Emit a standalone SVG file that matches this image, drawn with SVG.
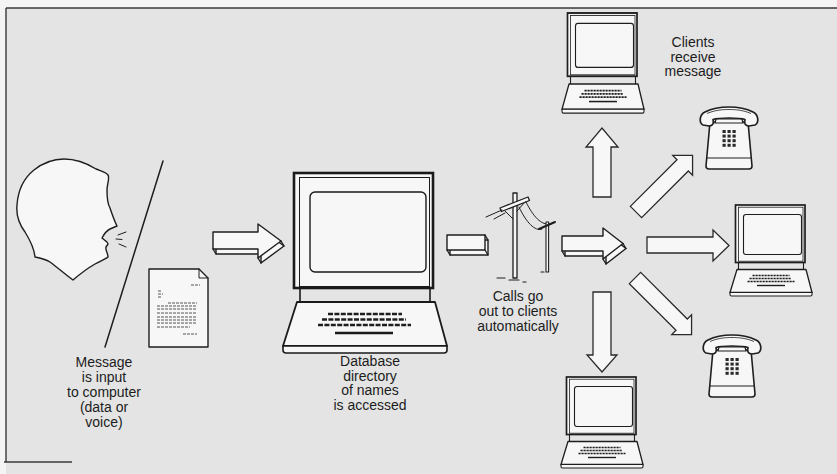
<svg xmlns="http://www.w3.org/2000/svg" width="837" height="474" viewBox="0 0 837 474">
  <style>
    .ink { stroke: #1e1e1e; stroke-linejoin: round; stroke-linecap: round; }
    .shape { fill: #f7f7f7; stroke: #1e1e1e; stroke-width: 1.4; stroke-linejoin: round; }
    .flat { fill: #f7f7f7; stroke: #2a2a2a; stroke-width: 1.3; stroke-linejoin: miter; }
    .label { font-family: "Liberation Sans", Arial, Helvetica, sans-serif; font-size: 14px; fill: #1c1c1c; text-anchor: middle; }
    .doc { stroke: #555; stroke-width: 1; stroke-dasharray: 3 1; }
    .kb { stroke: #1e1e1e; fill: none; }
  </style>
  <defs>
    <!-- small portable computer, 82 x 91 -->
    <symbol id="pc-small" overflow="visible">
      <rect x="5.5" y="0" width="69.5" height="57.5" fill="#f7f7f7" stroke="#1e1e1e" stroke-width="1.7"/>
      <rect x="8.5" y="2.2" width="64.5" height="54" fill="none" stroke="#1e1e1e" stroke-width="0.8"/>
      <rect x="13.5" y="9.5" width="58" height="40" rx="2.5" fill="#f7f7f7" stroke="#1e1e1e" stroke-width="1.1"/>
      <path d="M8.5,57.5 L8.5,64.5 M73.5,57.5 L73.5,64.5" stroke="#1e1e1e" stroke-width="1.1"/>
      <path d="M7,64.5 L76,64.5 L82,87.5 L0,87.5 Z" fill="#f7f7f7" stroke="#1e1e1e" stroke-width="1.3" stroke-linejoin="round"/>
      <path d="M0,87.5 L82,87.5 L82,89.5 Q82,91 80.5,91 L1.5,91 Q0,91 0,89.5 Z" fill="#f7f7f7" stroke="#1e1e1e" stroke-width="1.1"/>
      <g class="kb" stroke-width="1.5" stroke-dasharray="2.2 0.8">
        <path d="M22.5,70.5 L59.5,70.5"/>
        <path d="M19.5,73.5 L61.5,73.5"/>
        <path d="M17.5,76.5 L64.5,76.5"/>
      </g>
      <path d="M27,80.5 L55,80.5" stroke="#1e1e1e" stroke-width="1.4"/>
    </symbol>
    <!-- desk telephone, about 60 x 62 -->
    <symbol id="phone" overflow="visible">
      <path d="M11,15 L49,15 L53,59 Q53,62 50,62 L10,62 Q7,62 7,59 Z" fill="#f7f7f7" stroke="#1e1e1e" stroke-width="1.6" stroke-linejoin="round"/>
      <path d="M8,51 L52,51" stroke="#1e1e1e" stroke-width="1.2"/>
      <path d="M17,12 L43,12 L44,16 L16,16 Z" fill="#f7f7f7" stroke="#1e1e1e" stroke-width="1.2"/>
      <path d="M4,18 C0,16 0,8 6,5 C14,1 23,0 30,0 C37,0 46,1 54,5 C60,8 60,16 56,18 L50,19 C46,19 45,16 46,12.5 C40,10.5 20,10.5 14,12.5 C15,16 14,19 10,19 Z" fill="#f7f7f7" stroke="#1e1e1e" stroke-width="1.7" stroke-linejoin="round"/>
      <path d="M8,6.5 C16,3 24,2.5 30,2.5 C36,2.5 44,3 52,6.5" fill="none" stroke="#1e1e1e" stroke-width="0.8"/>
      <g fill="#2a2a2a">
        <rect x="23.5" y="23" width="3.2" height="3"/><rect x="28.5" y="23" width="3.2" height="3"/><rect x="33.5" y="23" width="3.2" height="3"/>
        <rect x="23.5" y="27.6" width="3.2" height="3"/><rect x="28.5" y="27.6" width="3.2" height="3"/><rect x="33.5" y="27.6" width="3.2" height="3"/>
        <rect x="23.5" y="32.2" width="3.2" height="3"/><rect x="28.5" y="32.2" width="3.2" height="3"/><rect x="33.5" y="32.2" width="3.2" height="3"/>
        <rect x="23.5" y="36.8" width="3.2" height="3"/><rect x="28.5" y="36.8" width="3.2" height="3"/><rect x="33.5" y="36.8" width="3.2" height="3"/>
      </g>
    </symbol>
  </defs>

  <!-- page and panel -->
  <rect x="0" y="0" width="837" height="474" fill="#f4f4f4"/>
  <rect x="6" y="8" width="831" height="466" fill="#e4e4e4"/>
  <path d="M6,8 L837,8 M6,8 L6,462 M4,462 L72,462" stroke="#3a3a3a" stroke-width="1.4" fill="none"/>

  <!-- speaker -->
  <g id="speaker">
    <path class="shape" stroke-width="2" d="M35,257 C34,248 30,240 25,232 C19,224 16,215 17,205 C18,190 24,178 34,170 C44,162 55,159 64,159 C76,159 88,164 96,169 C101,171 106,172 108,175 C110,178 107,184 107,190 C107,197 107,203 110,208 C112,214 114,220 117,226 L110,229 C106,231 104,234 102,238 C104,240 108,242 108,244 L106,247 C105,250 108,253 108,257 C106,259 100,261 95,264 C88,268 80,274 73,280 C66,275 58,268 50,262 C45,259 40,258 35,257 Z"/>
    <path class="ink" stroke-width="1" fill="none" d="M118,235 L126,232 M116,239 L122,239.5 M119,244 L126,247"/>
    <path class="ink" stroke-width="1.5" d="M163,161 L105,347"/>
  </g>

  <!-- written message -->
  <g id="document">
    <path class="shape" stroke-width="1.3" d="M149,269 L199,269 L208,278 L208,347 L149,347 Z"/>
    <path class="ink" stroke-width="1" fill="none" d="M199,269 L199,278 L208,278"/>
    <path class="doc" d="M191,285 L200,285"/>
    <path class="doc" stroke-dasharray="none" d="M158,291 L162,291 M158,294 L163,294 M158,297 L161,297"/>
    <path class="doc" d="M168,303 L197,303 M157,306 L197,306 M157,309 L197,309 M157,313 L197,313 M157,317 L197,317 M157,320 L197,320 M157,323 L196,323 M157,327 L190,327"/>
    <path class="doc" d="M183,334 L197,334"/>
  </g>
  <g id="label-message">
    <text class="label" x="104" y="366.5">Message</text>
    <text class="label" x="104" y="382">is input</text>
    <text class="label" x="104" y="397">to computer</text>
    <text class="label" x="104" y="412">(data or</text>
    <text class="label" x="104" y="427">voice)</text>
  </g>

  <!-- database computer -->
  <g id="database-computer">
    <rect x="294" y="173" width="139" height="115" fill="#f7f7f7" stroke="#1a1a1a" stroke-width="2.6"/>
    <rect x="299.5" y="177.5" width="130" height="109" fill="none" stroke="#1a1a1a" stroke-width="1"/>
    <rect x="310" y="192" width="116" height="80" rx="5" fill="#f7f7f7" stroke="#1a1a1a" stroke-width="1.4"/>
    <path d="M300,288 L300,302 M430,288 L430,302" stroke="#1a1a1a" stroke-width="1.6"/>
    <path d="M297,302 L435,302 L447,346 L283,346 Z" fill="#f7f7f7" stroke="#1a1a1a" stroke-width="1.8" stroke-linejoin="round"/>
    <path d="M283,346 L447,346 L447,350 Q447,353 444,353 L286,353 Q283,353 283,350 Z" fill="#f7f7f7" stroke="#1a1a1a" stroke-width="1.6"/>
    <g class="kb" stroke-width="2.4" stroke-dasharray="5 1.4">
      <path d="M328,314 L402,314"/>
      <path d="M322,319.5 L406,319.5"/>
      <path d="M318,325 L411,325"/>
    </g>
    <path d="M335,333 L393,333" stroke="#1a1a1a" stroke-width="2.4"/>
  </g>
  <g id="label-database" style="font-size:12.4px">
    <text class="label" x="370" y="366">Database</text>
    <text class="label" x="370" y="380.5">directory</text>
    <text class="label" x="370" y="395">of names</text>
    <text class="label" x="370" y="409.5">is accessed</text>
  </g>

  <!-- telephone line -->
  <g id="telephone-poles" class="ink" fill="none">
    <rect x="513" y="193" width="4" height="85" fill="#f7f7f7" stroke-width="1.3"/>
    <path d="M500,208 L528,197 L529.5,200.5 L501.5,211.5 Z" fill="#f7f7f7" stroke-width="1.3"/>
    <path d="M505,211 L513,219 M525,202 L517,211" stroke-width="1"/>
    <path d="M502,210 L486,217 M505,213 L494,219" stroke-width="1"/>
    <path d="M519,207 C526,222 535,232 542,229 M526,202 C533,216 541,226 551,224" stroke-width="1"/>
    <rect x="546" y="222" width="2.6" height="50" fill="#f7f7f7" stroke-width="1.1"/>
    <path d="M539,229 L555,222" stroke-width="2"/>
    <path d="M497,278 L505,278 M509,280 L519,280 M523,282 L526,282 M541,272 L544,272" stroke-width="1.2"/>
  </g>
  <g id="label-calls">
    <text class="label" x="518" y="300.5">Calls go</text>
    <text class="label" x="518" y="315.5">out to clients</text>
    <text class="label" x="518" y="330.5">automatically</text>
  </g>

  <!-- clients -->
  <g id="client-computer-top"><use href="#pc-small" transform="translate(562,13) scale(1,1.1)"/></g>
  <g id="client-phone-top"><use href="#phone" x="699" y="107"/></g>
  <g id="client-computer-right"><use href="#pc-small" x="730" y="205"/></g>
  <g id="client-phone-bottom"><use href="#phone" x="702" y="335"/></g>
  <g id="client-computer-bottom"><use href="#pc-small" x="561" y="377"/></g>
  <g id="label-clients">
    <text class="label" x="693" y="46.5">Clients</text>
    <text class="label" x="693" y="61.5">receive</text>
    <text class="label" x="693" y="76">message</text>
  </g>

  <!-- connectors -->
  <g id="connectors">
    <!-- solid arrow: input to computer -->
    <polygon class="shape" points="216,237 261,237 261,229 284,246 261,263 261,254 216,254"/>
    <polygon class="shape" points="213,232 258,232 258,224 281,241 258,258 258,249 213,249"/>
    <path class="ink" stroke-width="1.3" d="M213,249 L216,254 M258,258 L261,263 M281,241 L284,246"/>
    <!-- solid arrow: computer through the line -->
    <rect class="shape" x="450" y="240" width="38" height="15"/>
    <rect class="shape" x="447" y="235" width="38" height="15"/>
    <path class="ink" stroke-width="1.3" d="M447,250 L450,255 M485,250 L488,255 M485,235 L488,240"/>
    <polygon class="shape" points="565,241 606,241 606,233 626,248.5 606,264 606,256 565,256"/>
    <polygon class="shape" points="562,236 603,236 603,228 623,243.5 603,259 603,251 562,251"/>
    <path class="ink" stroke-width="1.3" d="M562,251 L565,256 M603,259 L606,264 M623,243.5 L626,248.5"/>
    <!-- fan-out to clients -->
    <polygon class="flat" points="593,197 593,147 586,147 602,128 618,147 611,147 611,197"/>
    <polygon class="flat" points="593,292 611,292 611,355 617,355 602,372 587,355 593,355"/>
    <polygon class="flat" points="647,237 713,237 713,230 729,245.5 713,261 713,253 647,253"/>
    <polygon class="flat" transform="translate(636,212) rotate(-45)" points="0,-8 66,-8 66,-14 80,0 66,14 66,8 0,8"/>
    <polygon class="flat" transform="translate(635,278) rotate(45)" points="0,-8 66,-8 66,-14 80,0 66,14 66,8 0,8"/>
  </g>
</svg>
